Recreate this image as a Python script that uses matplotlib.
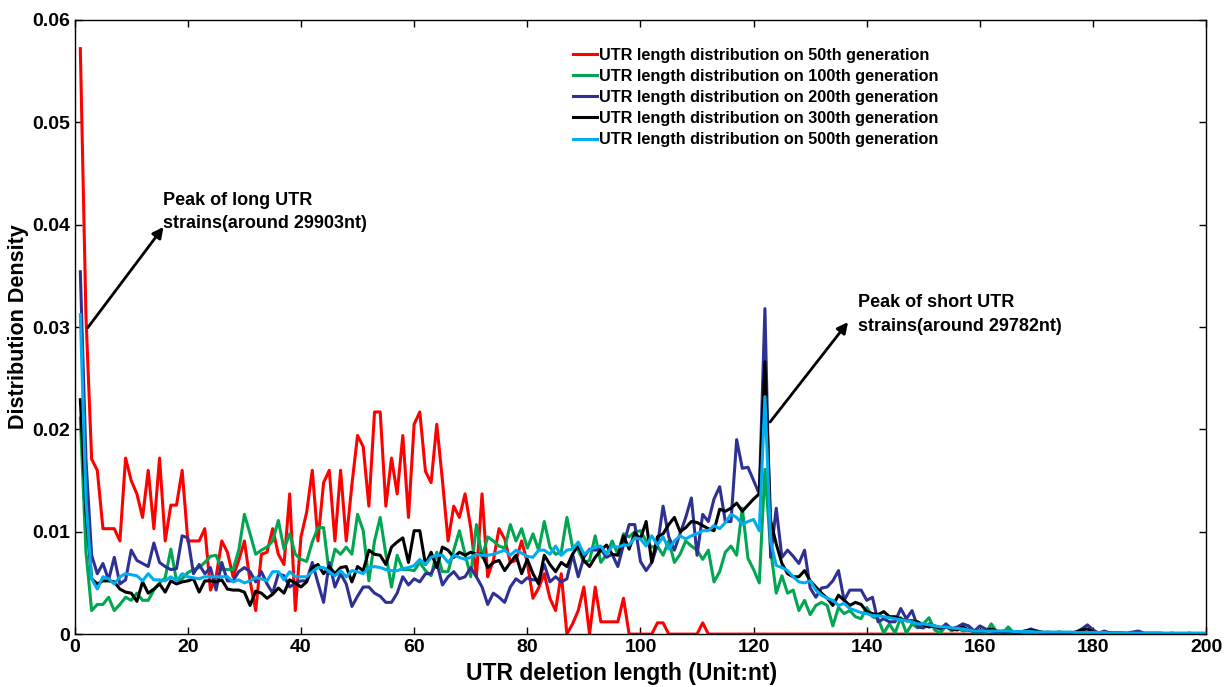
import numpy as np
import matplotlib
matplotlib.use("Agg")
import matplotlib.pyplot as plt

plt.rcParams['font.family'] = ['Liberation Sans', 'DejaVu Sans']
plt.rcParams['font.weight'] = 'bold'

# deletion length 1..200 nt, density values read in units of 1e-3
deletion_len = np.arange(1, 201)

gen50 = [
    57.2, 31.0, 17.1, 16.0, 10.3, 10.3, 10.3, 9.1, 17.2, 15.0,
    13.7, 11.4, 16.0, 10.3, 17.2, 9.1, 12.6, 12.6, 16.0, 9.1,
    9.1, 9.1, 10.3, 4.3, 5.6, 9.1, 8.0, 5.6, 7.2, 9.1,
    5.2, 2.3, 7.8, 8.0, 10.3, 7.8, 6.8, 13.7, 2.3, 9.5,
    11.9, 16.0, 9.1, 14.8, 16.0, 9.1, 16.0, 9.1, 14.6, 19.4,
    18.3, 12.5, 21.7, 21.7, 12.5, 17.2, 13.7, 19.4, 11.4, 20.5,
    21.7, 15.9, 14.8, 20.5, 15.0, 9.1, 12.5, 11.4, 13.7, 10.4,
    5.6, 13.7, 5.6, 7.2, 10.3, 9.3, 7.0, 7.2, 9.1, 7.0,
    3.5, 4.5, 5.9, 3.5, 2.3, 5.9, 0.0, 1.0, 2.3, 4.6,
    0.0, 4.6, 1.2, 1.2, 1.2, 1.2, 3.5, 0.0, 0.0, 0.0,
    0.0, 0.0, 1.1, 1.1, 0.0, 0.0, 0.0, 0.0, 0.0, 0.0,
    1.1,
] + [0.0] * 89

gen100 = [
    21.1, 8.0, 2.3, 2.9, 2.9, 3.6, 2.3, 2.9, 3.6, 3.3,
    4.0, 3.3, 3.3, 4.3, 5.0, 5.5, 8.3, 5.2, 5.4, 6.0,
    6.3, 6.5, 7.0, 7.6, 7.7, 6.3, 6.3, 6.3, 8.2, 11.7,
    9.8, 7.8, 8.2, 8.5, 9.1, 11.1, 8.3, 9.8, 7.8, 7.3,
    7.1, 9.0, 10.4, 10.4, 5.9, 8.3, 7.8, 8.5, 7.8, 11.7,
    10.1, 5.2, 9.1, 11.4, 7.8, 4.6, 7.7, 6.3, 6.3, 6.2,
    7.0, 6.2, 5.7, 8.0, 6.1, 6.1, 8.2, 10.1, 7.8, 5.6,
    10.7, 7.5, 9.5, 9.1, 8.6, 8.4, 10.7, 9.1, 10.3, 8.4,
    9.8, 8.2, 11.0, 8.5, 7.8, 8.0, 11.4, 8.5, 8.2, 7.0,
    7.2, 9.6, 7.0, 7.8, 9.1, 7.8, 9.8, 9.5, 10.0, 10.1,
    9.1, 8.5, 8.6, 7.7, 9.1, 7.0, 7.8, 9.1, 8.6, 8.2,
    7.3, 8.2, 5.1, 6.1, 8.0, 8.6, 7.7, 12.3, 7.4, 6.3,
    5.0, 16.1, 8.3, 4.0, 5.7, 4.0, 4.3, 2.3, 3.3, 1.9,
    2.8, 3.1, 2.8, 0.8, 2.6, 2.0, 2.3, 1.7, 1.5, 2.6,
    1.7, 1.5, 0.1, 1.0, 0.1, 1.6, 0.1, 1.0, 0.6, 1.0,
    1.6, 0.4, 0.1, 0.8, 0.3, 0.6, 0.3, 0.4, 0.2, 0.3,
    0.1, 1.0, 0.2, 0.1, 0.7, 0.1, 0.1, 0.1, 0.2, 0.1,
    0.1, 0.1, 0.0, 0.1, 0.0, 0.1, 0.0, 0.0, 0.1, 0.0,
    0.0, 0.0, 0.1, 0.0, 0.0, 0.0, 0.0, 0.0, 0.0, 0.0,
    0.0, 0.0, 0.0, 0.0, 0.0, 0.0, 0.0, 0.0, 0.0, 0.0,
]

gen200 = [
    35.4, 17.0, 7.7, 5.9, 6.9, 5.3, 7.5, 4.9, 5.3, 8.2,
    7.2, 6.9, 6.6, 8.9, 7.0, 6.6, 6.3, 6.4, 9.6, 9.4,
    5.9, 6.8, 5.9, 6.5, 4.3, 7.0, 5.2, 5.2, 6.1, 6.5,
    6.1, 5.1, 6.1, 4.9, 4.0, 5.9, 5.7, 4.6, 5.0, 5.2,
    5.2, 7.0, 5.0, 3.1, 7.0, 4.6, 5.9, 4.9, 2.7, 3.7,
    4.6, 4.6, 4.0, 3.7, 3.1, 3.1, 4.0, 5.6, 4.8, 5.4,
    5.1, 5.9, 5.9, 7.0, 4.8, 5.6, 6.1, 5.4, 5.6, 6.5,
    5.6, 4.6, 2.9, 4.0, 3.6, 3.1, 4.6, 5.4, 5.0, 5.5,
    5.3, 5.3, 6.8, 5.1, 5.6, 5.1, 5.4, 7.8, 5.6, 7.5,
    8.3, 8.2, 8.3, 7.5, 7.8, 6.6, 8.7, 10.7, 10.7, 7.1,
    6.2, 7.0, 8.7, 12.5, 9.5, 8.2, 9.8, 11.4, 13.3, 7.7,
    11.7, 11.0, 13.2, 14.4, 11.0, 11.0, 19.0, 16.2, 16.3, 15.0,
    13.7, 31.8, 7.5, 12.3, 7.5, 8.2, 7.6, 6.9, 8.2, 4.5,
    3.6, 4.5, 4.6, 5.2, 6.2, 3.3, 4.3, 4.3, 4.3, 3.3,
    3.6, 1.2, 1.5, 1.2, 1.2, 2.5, 1.5, 2.3, 0.7, 0.6,
    1.0, 0.7, 0.5, 1.0, 0.5, 0.7, 1.0, 0.8, 0.3, 0.8,
    0.5, 0.3, 0.2, 0.3, 0.2, 0.1, 0.2, 0.3, 0.5, 0.3,
    0.1, 0.2, 0.1, 0.1, 0.1, 0.1, 0.2, 0.5, 0.9, 0.4,
    0.1, 0.3, 0.1, 0.1, 0.1, 0.1, 0.2, 0.3, 0.1, 0.1,
    0.1, 0.1, 0.0, 0.1, 0.0, 0.0, 0.1, 0.0, 0.0, 0.0,
]

gen300 = [
    22.9, 12.0, 5.4, 4.9, 5.2, 5.2, 5.1, 4.4, 4.1, 4.0,
    3.2, 5.1, 4.0, 4.4, 4.9, 4.1, 5.2, 4.9, 5.1, 5.2,
    5.4, 4.1, 5.2, 5.2, 5.1, 5.3, 4.4, 4.3, 4.3, 4.1,
    2.8, 4.2, 4.0, 3.5, 3.9, 4.5, 4.0, 5.3, 5.0, 4.6,
    5.1, 6.5, 6.8, 5.9, 6.6, 5.9, 6.5, 6.6, 5.1, 6.6,
    6.2, 8.2, 7.8, 7.7, 6.8, 8.5, 9.0, 9.4, 7.0, 10.1,
    10.1, 6.8, 8.0, 6.5, 8.5, 8.2, 7.5, 8.0, 7.7, 8.0,
    7.8, 7.8, 6.5, 7.0, 7.2, 6.2, 7.0, 7.7, 5.9, 7.3,
    5.9, 4.9, 7.7, 6.8, 6.1, 7.0, 6.6, 7.8, 8.7, 7.2,
    6.6, 7.5, 8.2, 8.7, 7.8, 7.7, 9.6, 8.3, 9.9, 9.3,
    11.0, 7.0, 9.5, 9.8, 10.7, 11.4, 10.0, 10.4, 11.0, 10.9,
    10.6, 10.3, 10.1, 12.2, 12.0, 12.3, 12.8, 12.0, 12.6, 13.2,
    13.7, 26.6, 11.1, 8.8, 6.9, 5.9, 5.6, 5.6, 6.2, 5.2,
    4.6, 4.0, 3.5, 2.8, 3.8, 3.3, 2.8, 3.1, 2.9, 2.2,
    2.0, 1.9, 2.2, 1.7, 1.7, 1.5, 1.3, 1.3, 1.2, 0.9,
    0.7, 0.8, 0.6, 0.7, 0.5, 0.4, 0.7, 0.4, 0.3, 0.3,
    0.3, 0.5, 0.3, 0.2, 0.3, 0.2, 0.2, 0.3, 0.4, 0.3,
    0.2, 0.1, 0.1, 0.2, 0.1, 0.1, 0.2, 0.4, 0.5, 0.2,
    0.1, 0.1, 0.1, 0.1, 0.1, 0.05, 0.05, 0.1, 0.05, 0.05,
    0.05, 0.05, 0.0, 0.05, 0.0, 0.0, 0.05, 0.0, 0.0, 0.0,
]

gen500 = [
    31.2, 13.0, 5.4, 4.4, 5.6, 5.4, 4.9, 5.6, 5.9, 5.8,
    5.7, 5.2, 5.9, 5.3, 5.3, 5.2, 5.6, 5.2, 5.9, 5.6,
    5.5, 5.4, 5.6, 5.6, 5.6, 5.6, 5.6, 5.1, 5.3, 5.0,
    5.2, 5.5, 5.4, 5.2, 6.1, 6.1, 5.3, 6.1, 5.6, 5.6,
    5.6, 6.1, 6.5, 6.5, 6.1, 5.7, 6.2, 5.6, 6.2, 6.1,
    5.9, 6.5, 6.6, 6.5, 6.3, 6.2, 6.2, 6.4, 6.5, 6.7,
    7.3, 6.8, 7.5, 7.7, 7.7, 7.0, 7.7, 7.5, 7.3, 7.5,
    7.8, 7.7, 7.7, 7.8, 8.0, 8.2, 7.7, 8.2, 7.9, 7.6,
    7.5, 8.2, 8.2, 7.8, 8.6, 7.7, 8.2, 8.3, 9.0, 7.8,
    8.2, 8.5, 8.6, 7.8, 8.6, 8.5, 8.7, 8.7, 9.4, 9.3,
    8.6, 9.6, 8.7, 9.5, 8.3, 9.1, 9.6, 9.3, 9.6, 9.8,
    10.1, 10.1, 10.6, 10.3, 10.9, 11.7, 11.4, 10.7, 11.0, 11.2,
    10.1, 23.2, 9.1, 6.7, 6.5, 6.2, 5.6, 5.1, 5.0, 5.2,
    4.3, 3.8, 3.5, 3.3, 2.8, 3.0, 2.5, 2.3, 2.1, 2.0,
    1.8, 1.8, 1.7, 1.6, 1.5, 1.4, 1.3, 1.2, 1.0, 1.0,
    0.9, 0.8, 0.7, 0.7, 0.6, 0.55, 0.5, 0.4, 0.3, 0.3,
    0.3, 0.3, 0.3, 0.3, 0.3, 0.25, 0.25, 0.25, 0.25, 0.2,
    0.2, 0.2, 0.2, 0.2, 0.2, 0.2, 0.15, 0.15, 0.15, 0.15,
    0.15, 0.15, 0.1, 0.1, 0.1, 0.1, 0.1, 0.1, 0.1, 0.1,
    0.1, 0.1, 0.1, 0.1, 0.1, 0.1, 0.1, 0.1, 0.1, 0.1,
]

series = [gen50, gen100, gen200, gen300, gen500]
labels = ["UTR length distribution on 50th generation",
          "UTR length distribution on 100th generation",
          "UTR length distribution on 200th generation",
          "UTR length distribution on 300th generation",
          "UTR length distribution on 500th generation"]
colors = ["#FF0000", "#00A651", "#2E3192", "#000000", "#00AEEF"]

fig = plt.figure(figsize=(12.32, 6.87), dpi=100)
ax = fig.add_axes([0.0606, 0.077, 0.9185, 0.894])

for vals, lab, col in zip(series, labels, colors):
    ax.plot(deletion_len, np.array(vals) * 1e-3, color=col, lw=2.2, label=lab)

ax.set_xlim(0, 200)
ax.set_ylim(0, 0.06)
ax.set_xticks(np.arange(0, 201, 20))
ax.set_yticks([0, 0.01, 0.02, 0.03, 0.04, 0.05, 0.06])
ax.set_yticklabels(["0", "0.01", "0.02", "0.03", "0.04", "0.05", "0.06"])
ax.tick_params(direction='in', top=True, right=True, length=5, labelsize=14, width=1)
for lbl in ax.get_xticklabels() + ax.get_yticklabels():
    lbl.set_fontweight('bold')
for sp in ax.spines.values():
    sp.set_linewidth(1.0)

ax.set_xlabel("UTR deletion length (Unit:nt)", fontsize=16.5, fontweight='bold')
ax.xaxis.set_label_coords(0.483, -0.045)
ax.set_ylabel("Distribution Density", fontsize=15.5, fontweight='bold')
ax.yaxis.set_label_coords(-0.040, 0.5)

ax.legend(loc='upper left', bbox_to_anchor=(0.44, 0.955), frameon=False,
          handlelength=1.5, handletextpad=0.1, labelspacing=0.38, borderpad=0, borderaxespad=0,
          prop={'weight': 'bold', 'size': 11.7})

ax.annotate("", xy=(16, 0.040), xytext=(2, 0.0297),
            arrowprops=dict(arrowstyle='-|>', color='k', lw=2, mutation_scale=16))
ax.text(15.6, 0.0432, "Peak of long UTR\nstrains(around 29903nt)", fontsize=13,
        fontweight='bold', va='top', ha='left', linespacing=1.5)

ax.annotate("", xy=(137, 0.0307), xytext=(122.6, 0.0205),
            arrowprops=dict(arrowstyle='-|>', color='k', lw=2, mutation_scale=16))
ax.text(138.4, 0.0332, "Peak of short UTR\nstrains(around 29782nt)", fontsize=13,
        fontweight='bold', va='top', ha='left', linespacing=1.5)

plt.savefig("out.png", dpi=100)
